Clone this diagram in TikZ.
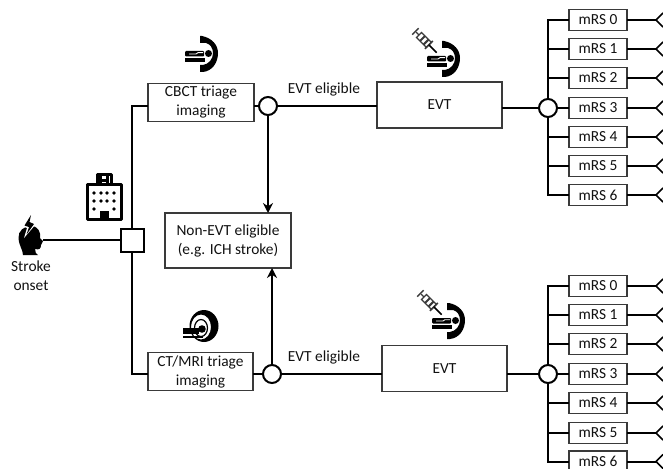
\documentclass[tikz,border=0pt]{standalone}
\usepackage{fontspec}
\setmainfont{Carlito}
\usetikzlibrary{arrows.meta}
\definecolor{ink}{HTML}{111111}
\definecolor{edge}{HTML}{3A3A3A}
\tikzset{
  x=1pt,y=-1pt,
  every node/.style={font=\fontsize{15.4}{19}\selectfont,text=ink,align=center,inner sep=0pt,outer sep=0pt},
  boxnode/.style={draw=edge,line width=1.2pt,fill=white},
  mrsbox/.style={boxnode,minimum width=58pt,minimum height=21pt},
  chance/.style={circle,draw=black,line width=2pt,fill=white,minimum size=18pt},
  decision/.style={rectangle,draw=black,line width=2pt,fill=white,minimum size=23pt},
  link/.style={draw=black,line width=2pt},
  arrowlink/.style={link,-{Stealth[length=10pt,width=10pt]}},
  plain/.style={},
  carm/.pic={
    \fill[black] (0,-17) -- (2,-17) .. controls (12,-15) and (18,-8) .. (18,0)
      .. controls (18,10) and (12,18) .. (3,19) -- (0,19) -- (0,12) -- (3,12)
      .. controls (9,11) and (13,6) .. (13,0) .. controls (13,-5) and (10,-9) .. (6,-10) -- (0,-10) -- cycle;
    \fill[black,rounded corners=1pt] (-15,-2) rectangle (4,3.5);
    \fill[black] (8.5,0.5) circle (3.5);
    \draw[white,line width=0.9pt] (-11,1) -- (-4,1) -- (-2,-0.3) -- (3,-0.3);
    \fill[black] (-15,5) rectangle (5,9);
  },
  syringe/.pic={
    \begin{scope}[rotate=-45]
      \draw[edge,line width=1.2pt,fill=white] (-17,-3.5) rectangle (-3,3.5);
      \fill[edge] (-13,-3.5) rectangle (-11,3.5) (-8,-3.5) rectangle (-6,3.5);
      \draw[edge,line width=1.3pt] (-21,0) -- (-17,0);
      \draw[edge,line width=1.5pt] (-22,-4.5) -- (-22,4.5);
      \draw[edge,line width=1.5pt] (-3,-5.5) -- (-3,5.5);
      \draw[black,line width=1.6pt] (-3,0) -- (8,0);
    \end{scope}
  },
  hospital/.pic={
    \draw[black,line width=3pt,fill=white,line join=round] (87,184) rectangle (121,219);
    \draw[black,line width=3pt,fill=white,line join=round] (97,174) rectangle (111,184);
    \draw[black,line width=2.2pt] (100.5,176) -- (100.5,185) (107.5,176) -- (107.5,185) (100.5,180.5) -- (107.5,180.5);
    \foreach \yy in {193,201} \foreach \xx in {94,101,107,114} \fill[black] (\xx,\yy) circle (1.9);
    \fill[black] (94,209) circle (1.9) (114,209) circle (1.9);
    \fill[black] (99.5,211) rectangle (108.5,220);
  },
  strokehead/.pic={
    \fill[black] (31,226) .. controls (38,226) and (41,232) .. (40,238)
      .. controls (41,240) and (43,240) .. (43,241) .. controls (43,243) and (41,243) .. (41,245)
      .. controls (41,249) and (39,250) .. (35,249) .. controls (35,252) and (36,254) .. (38,255)
      -- (23,255) .. controls (23,250) and (19,246) .. (18.5,238) .. controls (18,231) and (24,226) .. (31,226) -- cycle;
    \fill[white] (30,213) -- (22,226) -- (27,228) -- (24,238) -- (36,224) -- (31,222) -- (36,213) -- cycle;
    \fill[black] (31,215) -- (24.5,225.5) -- (29,227) -- (26.5,234.5) -- (34,224) -- (29.5,222) -- cycle;
  },
  mriscan/.pic={
    \fill[black,even odd rule] (204,326) ellipse (14.5 and 16) (201,327) ellipse (10 and 12.5);
    \draw[black,line width=1.2pt] (201,328) ellipse (6.5 and 8.5);
    \fill[black] (202,329) circle (3.8);
    \fill[black] (183,327.5) rectangle (199,334);
    \fill[black] (183,335.5) rectangle (203,338);
  },
}
\begin{document}
\begin{tikzpicture}
\fill[white] (0,0) rectangle (663,468);
\useasboundingbox (0,0) rectangle (663,468);

% icons
\pic {strokehead};
\pic {hospital};
\pic at (200,53) {carm};
\pic at (442,58) {carm};
\pic at (447,320) {carm};
\pic at (431,47) {syringe};
\pic at (436,309) {syringe};
\pic {mriscan};

% nodes
\coordinate (head) at (43,240);
\node[plain] (onsetlabel) at (31,276) {Stroke\\onset};
\node[decision] (sq) at (132,240) {};
\node[boxnode,minimum width=106pt,minimum height=38pt] (cbct) at (201,102.5) {CBCT triage\\imaging};
\node[boxnode,minimum width=105pt,minimum height=38pt] (ctmri) at (200.5,371.5) {CT/MRI triage\\imaging};
\node[boxnode,minimum width=126pt,minimum height=55pt] (nonevt) at (228,240.5) {Non-EVT eligible\\(e.g. ICH stroke)};
\node[chance] (c1) at (268,106) {};
\node[chance] (c2) at (272,374) {};
\node[boxnode,minimum width=125pt,minimum height=46pt] (evt1) at (439.5,105) {EVT};
\node[boxnode,minimum width=125pt,minimum height=46pt] (evt2) at (444.5,368.5) {EVT};
\node[chance] (j1) at (548,108) {};
\node[chance] (j2) at (548,374) {};
\node[plain] (el1) at (324,89) {EVT eligible};
\node[plain] (el2) at (324,357) {EVT eligible};

% outcome rows
\foreach \i/\a/\b in {0/20/286,1/49/315,2/78/344,3/108/374,4/137/403,5/166/433,6/195/461.5}{
  \node[mrsbox] (ma\i) at (598,\a) {mRS \i};
  \node[mrsbox] (mb\i) at (598,\b) {mRS \i};
  \coordinate (ta\i) at (656,\a);
  \coordinate (tb\i) at (656,\b);
  \draw[link] (ma\i.east) -- (ta\i);
  \draw[link] (mb\i.east) -- (tb\i);
  \draw[black,line width=1.5pt] (663,\a-7) -- (ta\i) -- (663,\a+7);
  \draw[black,line width=1.5pt] (663,\b-7) -- (tb\i) -- (663,\b+7);
}

% connectors
\draw[link] (head) -- (sq.west);
\draw[link] (sq.north) |- (cbct.west |- c1.west);
\draw[link] (sq.south) |- (ctmri.west |- c2.west);
\draw[link] (cbct.east |- c1.east) -- (c1.west);
\draw[link] (ctmri.east |- c2.east) -- (c2.west);
\draw[link] (c1.east) -- (evt1.west |- c1.east);
\draw[link] (c2.east) -- (evt2.west |- c2.east);
\draw[arrowlink] (c1.south) -- (c1.south |- nonevt.north);
\draw[arrowlink] (c2.north) -- (c2.north |- nonevt.south);
\draw[link] (evt1.east |- j1.west) -- (j1.west);
\draw[link] (evt2.east |- j2.west) -- (j2.west);
\draw[link] (j1.east) -- (ma3.west);
\draw[link] (j2.east) -- (mb3.west);
\draw[link] (j1.north) |- (ma0.west);
\draw[link] (j1.south) |- (ma6.west);
\draw[link] (j2.north) |- (mb0.west);
\draw[link] (j2.south) |- (mb6.west);
\foreach \i in {1,2}{
  \draw[link] (j1.north |- ma\i.west) -- (ma\i.west);
  \draw[link] (j2.north |- mb\i.west) -- (mb\i.west);
}
\foreach \i in {4,5}{
  \draw[link] (j1.south |- ma\i.west) -- (ma\i.west);
  \draw[link] (j2.south |- mb\i.west) -- (mb\i.west);
}
\end{tikzpicture}
\end{document}
